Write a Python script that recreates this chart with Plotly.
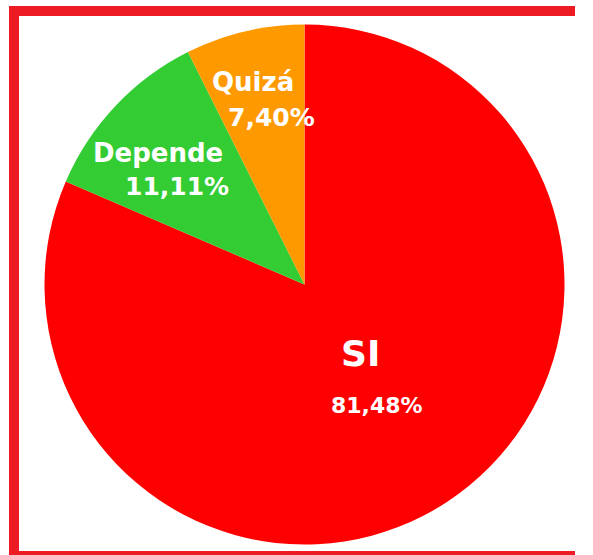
import plotly.graph_objects as go

labels = ["SI", "Depende", "Quizá"]
values = [81.48, 11.11, 7.40]
pct_text = ["81,48%", "11,11%", "7,40%"]
colors = ["#FF0000", "#33CC33", "#FF9900"]

W, H = 593, 555
cx, cy, r = 304.5, 284.5, 260

fig = go.Figure(go.Pie(
    labels=labels,
    values=values,
    sort=False,
    direction="clockwise",
    rotation=0,
    marker=dict(colors=colors, line=dict(width=0)),
    textinfo="none",
    hoverinfo="label+percent",
    showlegend=False,
    domain=dict(x=[(cx - r) / W, (cx + r) / W], y=[(H - cy - r) / H, (H - cy + r) / H]),
))

font_family = "'DejaVu Sans', sans-serif"
label_pos = [(360, 353, 36), (158, 153, 26), (253, 82, 26)]
pct_pos = [(377, 405, 22), (177, 186, 25), (271, 117, 25)]

annotations = []
for i in range(len(labels)):
    lx, ly, ls = label_pos[i]
    px, py, ps = pct_pos[i]
    annotations.append(dict(x=lx / W, y=1 - ly / H, xref="paper", yref="paper",
                            text="<b>" + labels[i] + "</b>", showarrow=False,
                            font=dict(family=font_family, size=ls, color="white"),
                            xanchor="center", yanchor="middle"))
    annotations.append(dict(x=px / W, y=1 - py / H, xref="paper", yref="paper",
                            text="<b>" + pct_text[i] + "</b>", showarrow=False,
                            font=dict(family=font_family, size=ps, color="white"),
                            xanchor="center", yanchor="middle"))

border = dict(color="#ED1C24", width=10)
def px2x(v):
    return v / W
def px2y(v):
    return 1 - v / H

shapes = [
    dict(type="line", xref="paper", yref="paper", x0=px2x(9), x1=px2x(575), y0=px2y(11), y1=px2y(11), line=border),
    dict(type="line", xref="paper", yref="paper", x0=px2x(14), x1=px2x(14), y0=px2y(6), y1=px2y(555), line=border),
    dict(type="line", xref="paper", yref="paper", x0=px2x(9), x1=px2x(575), y0=px2y(556), y1=px2y(556), line=border),
]

fig.update_layout(
    width=W, height=H,
    margin=dict(l=0, r=0, t=0, b=0),
    paper_bgcolor="white",
    annotations=annotations,
    shapes=shapes,
)

fig.write_html("out.html", config={"displayModeBar": False},
               post_script="document.body.style.margin='0';document.body.style.overflow='hidden';document.documentElement.style.overflow='hidden';")
